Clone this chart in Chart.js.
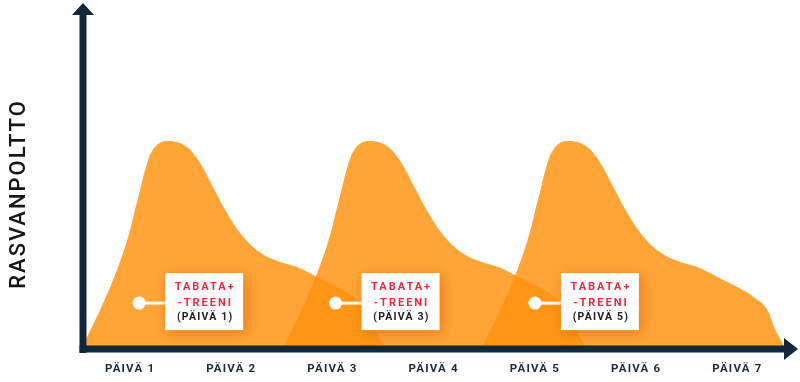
<!DOCTYPE html>
<html>
<head>
<meta charset="utf-8">
<script src="https://cdn.jsdelivr.net/npm/chart.js@4.4.1/dist/chart.umd.min.js"></script>
<style>
  html, body { margin: 0; padding: 0; background: #ffffff; }
  #wrap { width: 800px; height: 382px; position: relative; }
</style>
</head>
<body>
<div id="wrap"><canvas id="c" width="800" height="382"></canvas></div>
<script>
// ---- data (x in days, y = relative fat burning level) ----
const dayTicks = [1, 2, 3, 4, 5, 6, 7];
const tickLabel = "PÄIVÄ";
const yTitle = "RASVANPOLTTO";

const hump1X = [0.526, 0.575, 0.704, 0.832, 0.931, 1.000, 1.049, 1.099, 1.148, 1.198, 1.277, 1.375, 1.563, 1.692, 1.820, 1.958, 2.087, 2.215, 2.354, 2.482, 2.650, 2.848, 3.045, 3.204, 3.342, 3.421, 3.490, 3.520];
const hump1Y = [0, 3.5, 11.5, 20.3, 28.2, 35.0, 40.9, 46.8, 52.6, 57.1, 60.3, 61.2, 59.4, 54.7, 47.6, 40.0, 34.1, 30.0, 27.1, 25.6, 24.1, 21.2, 18.2, 15.3, 11.5, 5.6, 1.8, 0];

const hump2X = [2.516, 2.565, 2.694, 2.822, 2.921, 2.990, 3.039, 3.089, 3.138, 3.188, 3.267, 3.365, 3.553, 3.682, 3.810, 3.948, 4.077, 4.205, 4.344, 4.472, 4.640, 4.838, 5.035, 5.194, 5.332, 5.411, 5.480, 5.510];
const hump2Y = [0, 3.5, 11.5, 20.3, 28.2, 35.0, 40.9, 46.8, 52.6, 57.1, 60.3, 61.2, 59.4, 54.7, 47.6, 40.0, 34.1, 30.0, 27.1, 25.6, 24.1, 21.2, 18.2, 15.3, 11.5, 5.6, 1.8, 0];

const hump3X = [4.481, 4.530, 4.659, 4.787, 4.886, 4.955, 5.004, 5.054, 5.103, 5.153, 5.232, 5.330, 5.518, 5.647, 5.775, 5.913, 6.042, 6.170, 6.309, 6.437, 6.605, 6.803, 7.000, 7.159, 7.297, 7.376, 7.445, 7.475];
const hump3Y = [0, 3.5, 11.5, 20.3, 28.2, 35.0, 40.9, 46.8, 52.6, 57.1, 60.3, 61.2, 59.4, 54.7, 47.6, 40.0, 34.1, 30.0, 27.1, 25.6, 24.1, 21.2, 18.2, 15.3, 11.5, 5.6, 1.8, 0];

const calloutDays = [1.09, 3.03, 5.0];
const calloutLevel = 13.5;
const calloutLine1 = "TABATA+";
const calloutLine2 = "-TREENI";
const calloutDayNums = [1, 3, 5];

// ---- build ----
const fillColor = "rgba(255,147,15,0.84)";
function toPts(xs, ys) { return xs.map((x, i) => ({ x: x, y: ys[i] })); }
function humpDataset(xs, ys) {
  return {
    data: toPts(xs, ys),
    fill: "origin",
    backgroundColor: fillColor,
    borderWidth: 0,
    borderColor: "rgba(0,0,0,0)",
    pointRadius: 0,
    cubicInterpolationMode: "monotone"
  };
}

const AXIS = "#10283a";

const overlayPlugin = {
  id: "overlay",
  beforeDraw(chart) {
    chart.ctx.letterSpacing = "1.2px";
  },
  afterDatasetsDraw(chart) {
    const ctx = chart.ctx;
    const xs = chart.scales.x, ys = chart.scales.y;
    const ca = chart.chartArea;
    ctx.save();
    ctx.letterSpacing = "0px";
    // axes
    ctx.fillStyle = AXIS;
    const axL = ca.left - 3.5, axB = ca.bottom;
    ctx.fillRect(axL, 12, 7, axB - 12 + 4);
    ctx.beginPath();
    ctx.moveTo(axL + 3.5, 3);
    ctx.lineTo(axL + 3.5 + 11, 15);
    ctx.lineTo(axL + 3.5 - 11, 15);
    ctx.closePath();
    ctx.fill();
    ctx.fillRect(axL, axB - 3.5, 786 - axL, 7);
    ctx.beginPath();
    ctx.moveTo(798, axB);
    ctx.lineTo(784, axB - 11);
    ctx.lineTo(784, axB + 11);
    ctx.closePath();
    ctx.fill();

    // y title
    ctx.save();
    ctx.translate(19, 194);
    ctx.rotate(-Math.PI / 2);
    ctx.fillStyle = "#161616";
    ctx.font = "500 22px Roboto";
    ctx.letterSpacing = "2px";
    ctx.textAlign = "center";
    ctx.textBaseline = "middle";
    ctx.fillText(yTitle, 0, 0);
    ctx.restore();

    // callouts
    calloutDays.forEach((d, i) => {
      const cx = xs.getPixelForValue(d);
      const cy = ys.getPixelForValue(calloutLevel);
      const bx = cx + 26, by = cy - 30, bw = 78, bh = 57;
      ctx.strokeStyle = "#ffffff";
      ctx.lineWidth = 3;
      ctx.beginPath();
      ctx.moveTo(cx, cy);
      ctx.lineTo(bx, cy);
      ctx.stroke();
      ctx.fillStyle = "#ffffff";
      ctx.beginPath();
      ctx.arc(cx, cy, 6.5, 0, Math.PI * 2);
      ctx.fill();
      ctx.save();
      ctx.shadowColor = "rgba(190,80,0,0.45)";
      ctx.shadowBlur = 12;
      ctx.shadowOffsetX = 3;
      ctx.shadowOffsetY = 3;
      ctx.fillStyle = "#ffffff";
      ctx.fillRect(bx, by, bw, bh);
      ctx.restore();
      ctx.textAlign = "center";
      ctx.textBaseline = "middle";
      ctx.font = "700 11px Roboto";
      ctx.letterSpacing = "2px";
      ctx.fillStyle = "#ee2a3c";
      ctx.fillText(calloutLine1, bx + bw / 2 + 1, by + 14);
      ctx.fillText(calloutLine2, bx + bw / 2 + 1, by + 30);
      ctx.fillStyle = "#222222";
      ctx.font = "700 10.5px Roboto";
      ctx.letterSpacing = "1.2px";
      ctx.fillText("(" + tickLabel + " " + calloutDayNums[i] + ")", bx + bw / 2 + 1, by + 44);
      ctx.letterSpacing = "0px";
    });
    ctx.restore();
  },
  afterDraw(chart) {
    chart.ctx.letterSpacing = "0px";
  }
};

new Chart(document.getElementById("c"), {
  type: "line",
  data: {
    datasets: [humpDataset(hump1X, hump1Y), humpDataset(hump2X, hump2Y), humpDataset(hump3X, hump3Y)]
  },
  options: {
    responsive: false,
    animation: false,
    devicePixelRatio: 1,
    layout: { padding: { left: 83, right: 10, top: 9, bottom: 0 } },
    plugins: { legend: { display: false }, tooltip: { enabled: false } },
    scales: {
      x: {
        type: "linear",
        min: 0.535,
        max: 7.52,
        afterFit(s) { s.height = 33; },
        afterBuildTicks(s) { s.ticks = dayTicks.map(v => ({ value: v })); },
        grid: { display: false, drawTicks: false },
        border: { display: false },
        ticks: {
          autoSkip: false,
          maxRotation: 0,
          padding: 13,
          color: "#1d2b3a",
          font: { family: "Roboto", size: 11.5, weight: "700" },
          callback: v => tickLabel + " " + v
        }
      },
      y: {
        display: false,
        min: 0,
        max: 100
      }
    }
  },
  plugins: [overlayPlugin]
});
</script>
</body>
</html>
